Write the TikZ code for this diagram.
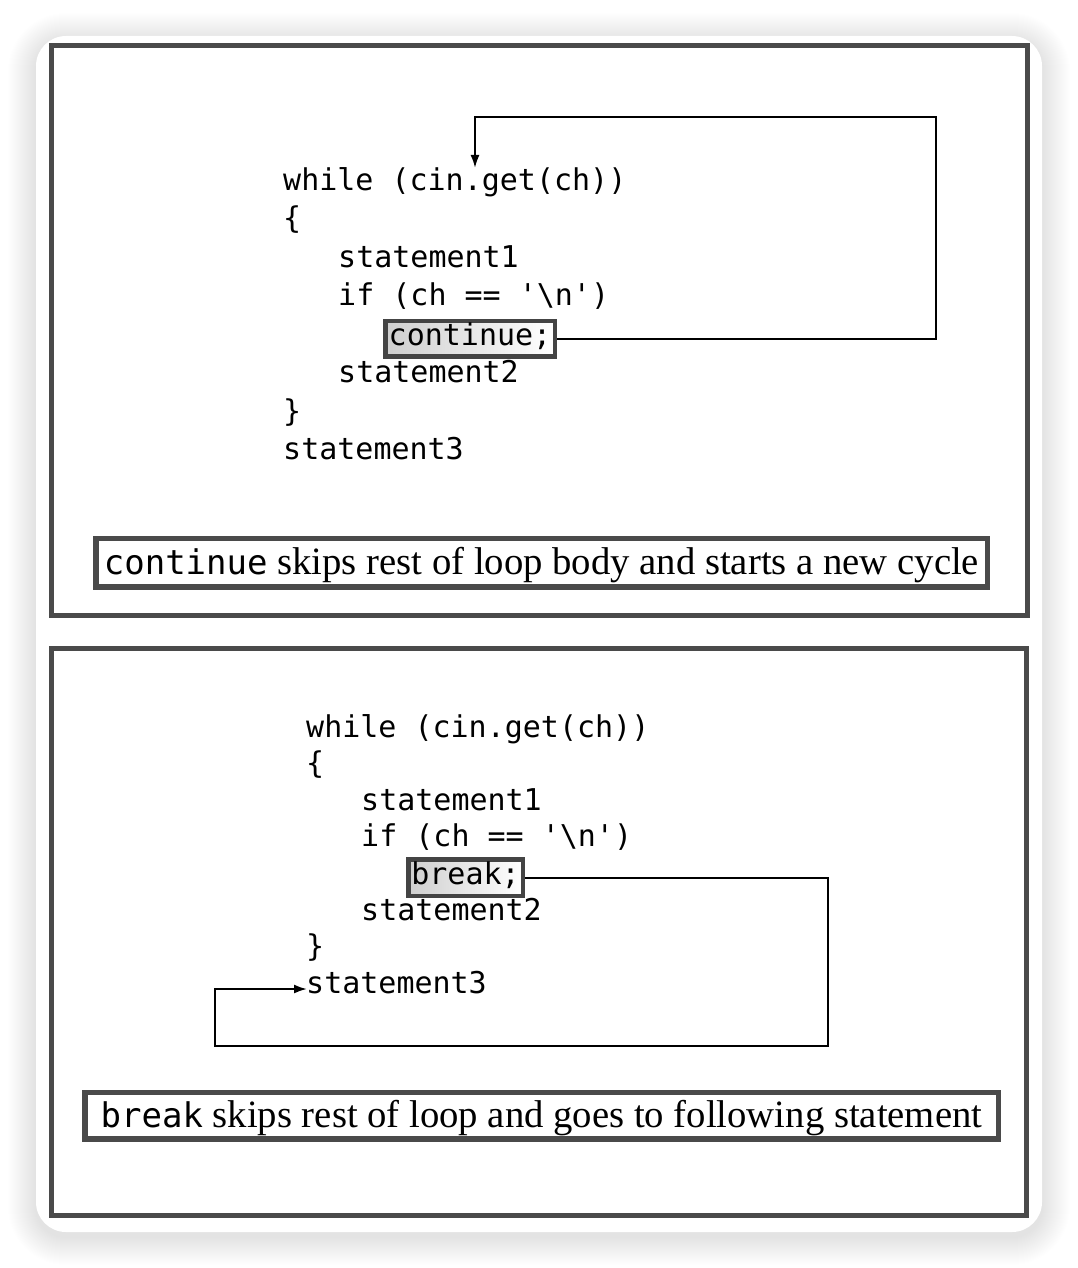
\documentclass[tikz,border=0pt]{standalone}
\usepackage{fontspec}
\setmainfont{Liberation Serif}
\setmonofont{DejaVu Sans Mono}
\usetikzlibrary{arrows.meta}
\definecolor{framegray}{HTML}{4A4A4A}
\definecolor{boxgray}{HTML}{444444}
\begin{document}
\begin{tikzpicture}[x=1pt,y=-1pt,
  frame/.style={draw=framegray, line width=5pt},
  code/.style={anchor=base west, inner sep=0pt, font=\ttfamily\fontsize{30}{36}\selectfont},
  hl/.style={draw=boxgray, line width=4.5pt, inner sep=0pt, text height=20pt, text depth=7pt,
    left color=gray!38, right color=white, anchor=base, font=\ttfamily\fontsize{30}{36}\selectfont},
  capbox/.style={draw=framegray, line width=5.5pt, inner sep=0pt, text height=30pt, text depth=7pt,
    anchor=base, fill=white, font=\fontsize{38.7}{42}\selectfont},
  conn/.style={line width=2pt, draw=black},
  tip/.style={-{Latex[length=13pt,width=9pt]}}
]
\useasboundingbox (0,0) rectangle (1078,1268);
\fill[white] (0,0) rectangle (1078,1268);
% shadow of the card
\foreach \k [evaluate=\k as \r using 30+\k] in {1,...,28}
  \fill[black, opacity=0.005, rounded corners=\r pt] (36-\k,36-\k+5) rectangle (1042+\k,1232+\k+5);
\fill[white, rounded corners=30pt] (36,36) rectangle (1042,1232);

% panels
\draw[frame] (51,46) rectangle (1027,615);
\draw[frame] (51,648) rectangle (1026,1215.5);

% ---------- top panel ----------
\node[code] (t1) at (283,190) {while (cin.get(ch))};
\node[code] (t2) at (283,228.5) {\{};
\node[code] (t3) at (338,267) {statement1};
\node[code] (t4) at (338,305.5) {if (ch == '\textbackslash n')};
\node[hl, minimum width=169.5pt, minimum height=35.5pt] (t5) at (470,345) {continue;};
\node[code] (t6) at (338,382.5) {statement2};
\node[code] (t7) at (283,421) {\}};
\node[code] (t8) at (283,459.5) {statement3};
\coordinate (tr) at (936,117);
\coordinate (tt) at (475,168);
\draw[conn, tip] (t5.east) -| (tr) -| (tt);
\node[capbox, minimum width=891.5pt, minimum height=48.5pt] (cap1) at (541.5,574)
  {{\ttfamily\fontsize{34}{40}\selectfont continue} skips rest of loop body and starts a new cycle};

% ---------- bottom panel ----------
\node[code] (b1) at (306,737) {while (cin.get(ch))};
\node[code] (b2) at (306,773.6) {\{};
\node[code] (b3) at (361,810.2) {statement1};
\node[code] (b4) at (361,846.8) {if (ch == '\textbackslash n')};
\node[hl, minimum width=114.5pt, minimum height=36.5pt] (b5) at (465.5,884) {break;};
\node[code] (b6) at (361,920) {statement2};
\node[code] (b7) at (306,956.6) {\}};
\node[code] (b8) at (306,993.2) {statement3};
\coordinate (br) at (828,1046);
\coordinate (bl) at (215,989);
\coordinate (bt) at (307,989);
\draw[conn, tip] (b5.east) -| (br) -| (bl) -- (bt);
\node[capbox, minimum width=913.5pt, minimum height=46.5pt] (cap2) at (541.5,1127)
  {{\ttfamily\fontsize{34}{40}\selectfont break} skips rest of loop and goes to following statement};
\end{tikzpicture}
\end{document}
